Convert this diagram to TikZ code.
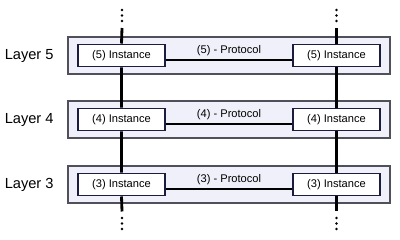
\documentclass[tikz,border=0pt]{standalone}
\usepackage{fontspec}
\setmainfont{Liberation Sans}
\usetikzlibrary{positioning}
\definecolor{layerfill}{HTML}{F0F0FA}
\definecolor{layerdraw}{HTML}{50505A}
\definecolor{instdraw}{HTML}{1C1C40}
\begin{document}
\begin{tikzpicture}[x=0.025cm, y=-0.025cm,
    layerbox/.style={draw=layerdraw, fill=layerfill, line width=0.8pt, minimum width=322*0.025cm, minimum height=37*0.025cm, inner sep=0pt},
    instbox/.style={draw=instdraw, fill=white, line width=1.4pt, minimum width=87*0.025cm, minimum height=22*0.025cm, inner sep=0pt, font=\fontsize{7.9}{9}\selectfont},
    layerlbl/.style={anchor=east, font=\fontsize{10.4}{12}\selectfont},
    stack/.style={line width=2pt},
    proto/.style={line width=1.4pt},
    protolbl/.style={font=\fontsize{7.9}{9}\selectfont, inner sep=1pt}]
    \useasboundingbox (0,0) rectangle (400,240);
    % Layers with their two instances
    \foreach \n/\y in {5/55.5, 4/119.5, 3/184.5} {
        \node[layerbox] (layer\n) at (229,\y) {};
        \node[layerlbl] (lbl\n) at (58.5,\y) {Layer \n};
        \node[instbox] (left\n) at (121.5,\y) {(\n) Instance};
        \node[instbox] (right\n) at (336.5,\y) {(\n) Instance};
        \draw[proto] ([yshift=-3.2pt]left\n.east) -- node[protolbl, above=1.5pt] {(\n) - Protocol} ([yshift=-3.2pt]right\n.west);
    }
    % Vertical stacks
    \coordinate (topL) at (122,28); \coordinate (topR) at (336.5,28);
    \coordinate (botL) at (122,211.5); \coordinate (botR) at (336.5,211.5);
    \draw[stack] (topL) -- (left5.north) (left5.south) -- (left4.north) (left4.south) -- (left3.north) (left3.south) -- (botL);
    \draw[stack] (topR) -- (right5.north) (right5.south) -- (right4.north) (right4.south) -- (right3.north) (right3.south) -- (botR);
    % Continuation dots
    \foreach \y in {10, 15.5, 21, 218, 223.5, 229} {
        \fill (122,\y) circle (1.4);
        \fill (336.5,\y) circle (1.4);
    }
\end{tikzpicture}
\end{document}
